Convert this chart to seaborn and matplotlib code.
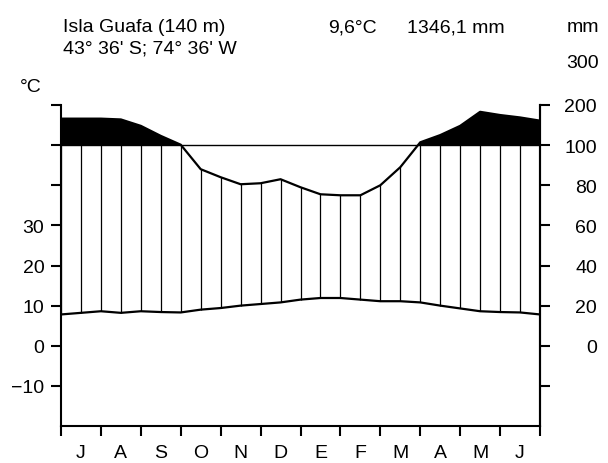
import numpy as np
import pandas as pd
import matplotlib
matplotlib.use("Agg")
import matplotlib.pyplot as plt
import seaborn as sns

# ---- data (half-month steps, July -> June) ----
months = ["J", "A", "S", "O", "N", "D", "E", "F", "M", "A", "M", "J"]
pos = [i * 0.5 for i in range(25)]
temp = [7.8, 8.2, 8.6, 8.2, 8.6, 8.4, 8.3, 9.0, 9.4, 10.0, 10.4, 10.8, 11.5,
        11.9, 11.9, 11.5, 11.1, 11.1, 10.8, 10.0, 9.3, 8.6, 8.4, 8.3, 7.8]
prec = [166, 166, 166, 164, 148, 123, 101, 88, 84, 80.5, 81, 83, 79,
        75.5, 75, 75, 80, 89, 107, 125, 148, 183, 175, 169, 161]
left_ticks = [-10, 0, 10, 20, 30, 40, 50, 60]
left_labels = ["\u221210", "0", "10", "20", "30", "", "", ""]
right_ticks = [-10, 0, 10, 20, 30, 40, 50, 60]
right_labels = ["", "0", "20", "40", "60", "80", "100", "200"]
title1 = "Isla Guafa (140 m)"
title2 = "43\u00b0 36' S; 74\u00b0 36' W"
mean_t = "9,6\u00b0C"
total_p = "1346,1 mm"


def scale_p(p):
    p = np.asarray(p, dtype=float)
    return np.where(p <= 100, p / 2.0, 50 + (p - 100) / 10.0)


df = pd.DataFrame({"x": pos, "t": temp, "p": scale_p(prec)})

sns.set_theme(style="ticks")
plt.rcParams["font.family"] = ["Liberation Sans", "DejaVu Sans"]

fig = plt.figure(figsize=(6.08, 4.64), dpi=100)
ax = fig.add_axes([61 / 608, 1 - 427 / 464, 479 / 608, 321 / 464])

lw_sp = 1.5
# hatch lines in humid period
top = np.minimum(df["p"], 50)
mask = top > df["t"]
ax.vlines(df["x"][mask], df["t"][mask], top[mask], color="black", lw=0.9)
# super-humid black fill
ax.fill_between(df["x"], 50, df["p"], where=df["p"] > 50, interpolate=True,
                color="black", lw=0)
ax.axhline(50, color="black", lw=1.0)

sns.lineplot(data=df, x="x", y="t", ax=ax, color="black", lw=1.6)
sns.lineplot(data=df, x="x", y="p", ax=ax, color="black", lw=1.6)

ax.set_xlim(0, 12)
ax.set_ylim(-20, 60)
ax.set_xlabel("")
ax.set_ylabel("")
ax.spines["top"].set_visible(False)
for s in ["left", "right", "bottom"]:
    ax.spines[s].set_linewidth(lw_sp)
    ax.spines[s].set_color("black")

ax.set_xticks(range(13))
ax.set_xticklabels([])
ax.set_xticks([i + 0.5 for i in range(12)], minor=True)
ax.set_xticklabels(months, minor=True, fontsize=14)
ax.tick_params(axis="x", which="major", length=7, width=lw_sp, direction="out", color="black")
ax.tick_params(axis="x", which="minor", length=0, pad=13, labelcolor="black")

ax.set_yticks(left_ticks)
ax.set_yticklabels(left_labels, fontsize=14)
ax.tick_params(axis="y", length=7, width=lw_sp, direction="out", pad=5,
               color="black", labelcolor="black")

ax2 = ax.twinx()
ax2.set_ylim(-20, 60)
ax2.set_yticks(right_ticks)
ax2.set_yticklabels(right_labels, fontsize=14, ha="right")
ax2.tick_params(axis="y", length=7, width=lw_sp, direction="out", pad=34,
                color="black", labelcolor="black")
for s in ["top", "left", "bottom"]:
    ax2.spines[s].set_visible(False)
ax2.spines["right"].set_linewidth(lw_sp)
ax2.spines["right"].set_color("black")

W, H = 608, 464
def ftext(x, y, s, ha="left"):
    fig.text(x / W, 1 - y / H, s, ha=ha, va="center", fontsize=14, color="black")

ftext(63, 28, title1)
ftext(63, 49, title2)
ftext(328, 28, mean_t)
ftext(407, 28, total_p)
ftext(599, 28, "mm", ha="right")
ftext(599, 64, "300", ha="right")
ftext(31, 88, "\u00b0C", ha="center")

fig.savefig("out.png", dpi=100)
